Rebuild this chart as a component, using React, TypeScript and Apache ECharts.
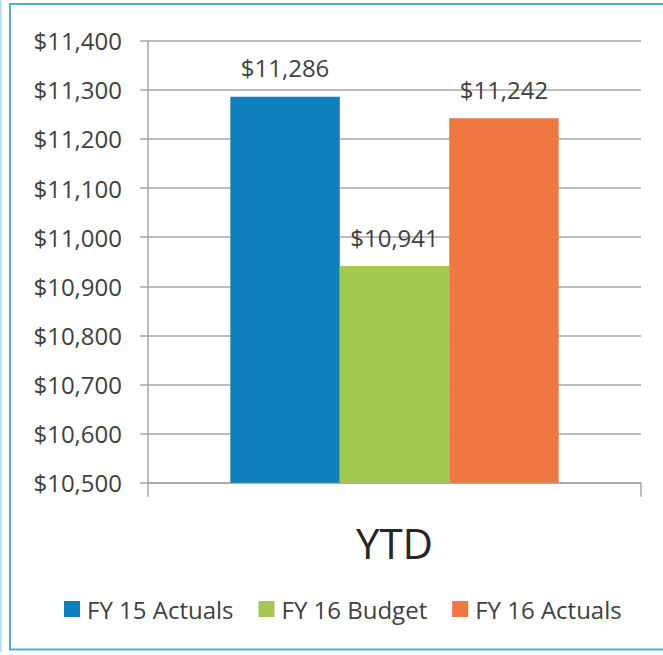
import React, { useEffect, useRef } from "react";
import * as echarts from "echarts";

const categories = ["YTD"];
const seriesNames = ["FY 15 Actuals", "FY 16 Budget", "FY 16 Actuals"];
const fy15Actuals = [11286];
const fy16Budget = [10941];
const fy16Actuals = [11242];
const seriesColors = ["#1080bd", "#a4c751", "#ee7840"];
const yMin = 10500;
const yMax = 11400;
const yStep = 100;

const fmt = (v: number) => "$" + v.toLocaleString("en-US");

export default function App() {
  const ref = useRef<HTMLDivElement>(null);
  useEffect(() => {
    if (!ref.current) return;
    const chart = echarts.init(ref.current, null, { renderer: "svg" });
    const font = "'Open Sans', sans-serif";
    const values = [fy15Actuals, fy16Budget, fy16Actuals];
    chart.setOption({
      animation: false,
      textStyle: { fontFamily: font },
      grid: { left: 148, right: 22, top: 40.7, bottom: 172.3, containLabel: false },
      legend: {
        data: seriesNames,
        top: 597,
        left: 64,
        padding: 0,
        itemWidth: 16,
        itemHeight: 16,
        itemGap: 25,
        icon: "rect",
        textStyle: { fontSize: 24, color: "#404040", fontFamily: font, padding: [0, 0, 0, 2] },
      },
      xAxis: {
        type: "category",
        data: categories,
        axisLine: { lineStyle: { color: "#a6a6a6", width: 1.5 } },
        axisTick: { show: true, length: 14, lineStyle: { color: "#a6a6a6", width: 1.5 } },
        axisLabel: { fontSize: 42, color: "#262626", margin: 39, fontFamily: font },
      },
      yAxis: {
        type: "value",
        min: yMin,
        max: yMax,
        interval: yStep,
        axisLine: { show: true, lineStyle: { color: "#a6a6a6", width: 1.5 } },
        axisTick: { show: true, length: 8, lineStyle: { color: "#a6a6a6", width: 1.5 } },
        splitLine: { lineStyle: { color: "#a6a6a6", width: 1.5 } },
        axisLabel: { fontSize: 24, color: "#404040", margin: 26, formatter: (v: number) => fmt(v), fontFamily: font },
      },
      series: seriesNames.map((name, i) => ({
        name,
        type: "bar",
        data: values[i],
        barGap: "0%",
        barCategoryGap: "33.4%",
        itemStyle: { color: seriesColors[i] },
        label: {
          show: true,
          position: "top",
          distance: 17,
          fontSize: 24,
          color: "#404040",
          fontFamily: font,
          formatter: (p: any) => fmt(p.value),
        },
      })),
      graphic: [
        {
          type: "line",
          shape: { x1: 1, y1: 0, x2: 1, y2: 652 },
          style: { stroke: "#a9dbe5", lineWidth: 1.5 },
          silent: true,
        },
        {
          type: "rect",
          shape: { x: 10, y: 4, width: 700, height: 645.5 },
          style: { fill: "none", stroke: "#4bb4c4", lineWidth: 2 },
          silent: true,
        },
      ],
    });
    return () => chart.dispose();
  }, []);
  return (
    <div
      ref={ref}
      style={{ position: "fixed", left: 0, top: 0, width: 663, height: 655, background: "#fff" }}
    />
  );
}
